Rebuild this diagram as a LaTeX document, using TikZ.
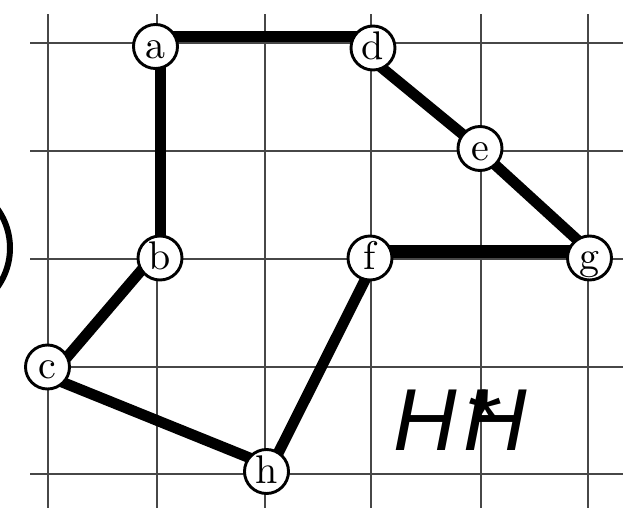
\documentclass[tikz,border=0pt]{standalone}
\usepackage{fontspec}
\usepackage{graphicx}
\newfontfamily\hfont{Liberation Sans}
\newcommand\vlab[1]{\scalebox{4.0}{#1}}
\begin{document}
\begin{tikzpicture}[x=1pt,y=-1pt,
  gridline/.style={black!72,line width=1.4pt},
  edge/.style={line width=10.8pt,black},
  vtx/.style={circle,draw=black,line width=2.9pt,fill=white,minimum size=44pt,inner sep=0pt,
    font=\fontsize{10}{12}\selectfont,text height=30pt,text depth=6.4pt}]
\useasboundingbox (0,0) rectangle (630,517);
% grid
\foreach \gx in {48,157,265,371,481,588} \draw[gridline] (\gx,14) -- (\gx,508);
\foreach \gy in {43,151,259,367,474} \draw[gridline] (30,\gy) -- (623,\gy);
% partial circle at left edge
\draw[line width=6pt] (-57,248) circle (67);
% vertex positions
\coordinate (pa) at (155.5,46.5);
\coordinate (pb) at (160,258);
\coordinate (pc) at (47.5,367);
\coordinate (pd) at (373,48);
\coordinate (pe) at (480,148.5);
\coordinate (pf) at (370,258);
\coordinate (pg) at (589.5,258);
\coordinate (ph) at (266.5,471.5);
% edges
\draw[edge] ([xshift=4.8pt]pa) -- ([xshift=0.3pt]pb);
\draw[edge] ([yshift=9.8pt]pa) -- ([yshift=11.3pt]pd);
\draw[edge] ([yshift=-12.6pt]pd) -- (pe);
\draw[edge] ([yshift=-2.5pt]pe) -- ([yshift=7pt]pg);
\draw[edge,line width=12.5pt] ([yshift=6.5pt]pf) -- ([yshift=6.5pt]pg);
\draw[edge] ([xshift=6pt]pf) -- ([xshift=2.5pt]ph);
\draw[edge] ([yshift=6.8pt]ph) -- ([yshift=-9.2pt]pc);
\draw[edge] ([yshift=-13pt]pc) -- ([yshift=9.5pt]pb);
% vertices
\node[vtx] (a) at (pa) {\vlab{a}};
\node[vtx] (b) at (pb) {\vlab{b}};
\node[vtx] (c) at (pc) {\vlab{c}};
\node[vtx] (d) at (pd) {\vlab{d}};
\node[vtx] (e) at (pe) {\vlab{e}};
\node[vtx] (f) at (pf) {\vlab{f}};
\node[vtx] (g) at (pg) {\vlab{g}};
\node[vtx] (h) at (ph) {\vlab{h}};
% text
\node[anchor=base west,inner sep=0pt,font=\hfont\itshape\fontsize{88}{100}\selectfont] (hh) at (393,450) {H\kern6.5pt\rlap{\kern1pt*}H};
\end{tikzpicture}
\end{document}
